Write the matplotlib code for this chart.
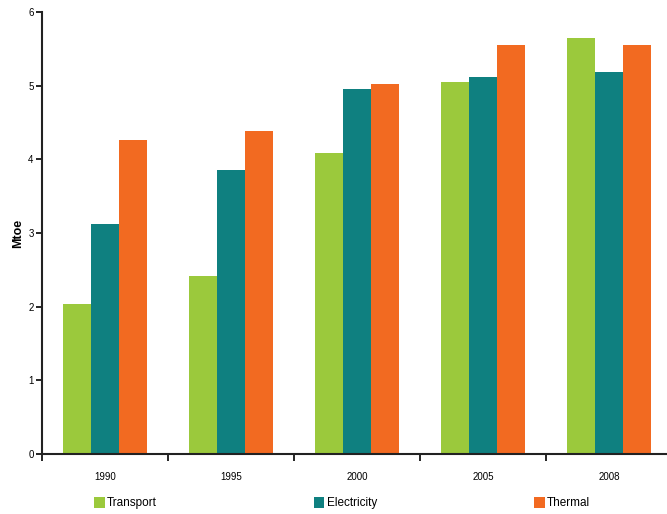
import matplotlib
matplotlib.use("Agg")
import matplotlib.pyplot as plt
import numpy as np

plt.rcParams['font.family'] = ['Liberation Sans', 'DejaVu Sans']

years = ["1990", "1995", "2000", "2005", "2008"]
transport = [2.03, 2.41, 4.09, 5.05, 5.65]
electricity = [3.12, 3.86, 4.95, 5.12, 5.19]
thermal = [4.26, 4.39, 5.02, 5.55, 5.55]

series = [("Transport", transport, "#9BC93C"),
          ("Electricity", electricity, "#0F8080"),
          ("Thermal", thermal, "#F26A21")]

fig = plt.figure(figsize=(6.67, 5.14), dpi=100)
ax = fig.add_axes([42 / 667, 60 / 514, 630 / 667, 442 / 514])

x = np.arange(len(years))
width = 0.222
for i, (name, vals, color) in enumerate(series):
    ax.bar(x + (i - 1) * width, vals, width, color=color, label=name, linewidth=0)

ax.set_xlim(-0.5, len(years) - 0.5)
ax.set_ylim(0, 6)
ax.set_yticks(range(7))
ax.set_xticks(x)
ax.set_xticklabels(years)
ax.set_xticks(np.arange(-0.5, len(years)), minor=True)
ax.tick_params(axis='x', which='major', length=0, pad=13, labelsize=7)
ax.tick_params(axis='x', which='minor', length=5, width=1.2, direction='out')
ax.tick_params(axis='y', length=4, width=1.2, direction='out', labelsize=7, pad=2)

for side in ("top", "right"):
    ax.spines[side].set_visible(False)
for side in ("left", "bottom"):
    ax.spines[side].set_linewidth(1.5)
    ax.spines[side].set_color("#222222")

ax.set_ylabel("Mtoe", fontsize=9, fontweight='bold')
ax.yaxis.set_label_coords(-0.028, 0.5)

fig.legend(loc='center', bbox_to_anchor=(94 / 667, 4 / 514, 496 / 667, 14 / 514),
           mode='expand', ncol=3, frameon=False, borderaxespad=0, borderpad=0,
           fontsize=8.5, handlelength=0.9, handleheight=1.1, handletextpad=0.2)

fig.savefig("out.png", dpi=100)
